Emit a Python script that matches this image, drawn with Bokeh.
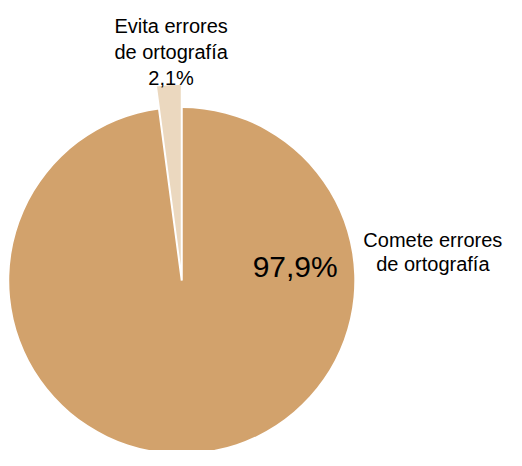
from bokeh.plotting import figure
from bokeh.models import Range1d
from bokeh.core.properties import value
from bokeh.embed import file_html
from bokeh.resources import INLINE
import math

# Data
categories = ["Evita errores\nde ortografía", "Comete errores\nde ortografía"]
values = [2.1, 97.9]
colors = ["#EBD8BF", "#D2A26C"]

def fmt(v):
    return f"{v:.1f}".replace(".", ",") + "%"

W, H = 506, 450
RW, RH = 522, 466  # design space
p = figure(width=W, height=H, output_backend="svg", toolbar_location=None,
           x_range=Range1d(0, RW), y_range=Range1d(0, RH),
           min_border=0, outline_line_color=None)
p.axis.visible = False
p.xgrid.visible = False
p.ygrid.visible = False
p.background_fill_color = "white"
p.border_fill_color = "white"

cx, cy = 187, RH - 290
R = 178
R_small = 203

total = sum(values)
start0 = math.pi / 2
a_small = values[0] / total * 2 * math.pi

# main slice
p.wedge(x=[cx], y=[cy], radius=R, start_angle=[start0 + a_small], end_angle=[start0 + 2 * math.pi],
        fill_color=colors[1], line_color=None)
# small slice (protruding)
p.wedge(x=[cx], y=[cy], radius=R_small, start_angle=[start0], end_angle=[start0 + a_small],
        fill_color=colors[0], line_color="white", line_width=2)

font = value("Liberation Sans")

# small slice label
lines_small = categories[0].split("\n") + [fmt(values[0])]
for i, t in enumerate(lines_small):
    p.text(x=[176], y=[RH - 26 - 27 * i], text=[t], text_font=font, text_font_size="20px",
           text_align="center", text_baseline="alphabetic", text_color="black")

# big slice outside label
for i, t in enumerate(categories[1].split("\n")):
    p.text(x=[446], y=[RH - 248 - 25 * i], text=[t], text_font=font, text_font_size="20px",
           text_align="center", text_baseline="alphabetic", text_color="black")

# big slice percentage
p.text(x=[304], y=[RH - 275], text=[fmt(values[1])], text_font=font, text_font_size="30px",
       text_align="center", text_baseline="alphabetic", text_color="black")

open("out.html", "w").write(file_html(p, INLINE))
